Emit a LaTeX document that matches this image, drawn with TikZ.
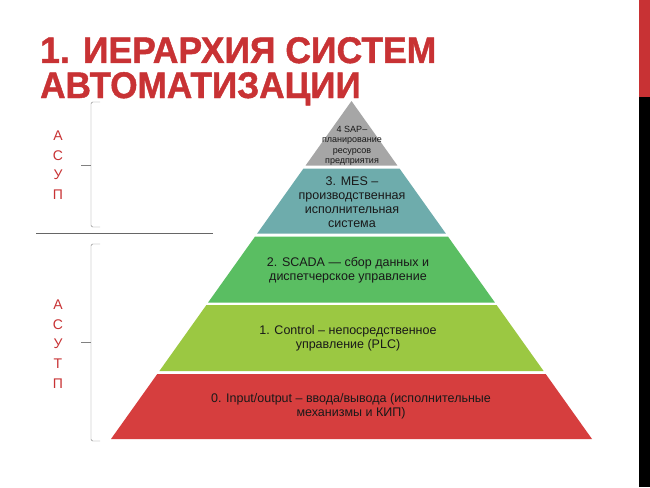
\documentclass[tikz,border=0pt]{standalone}
\usepackage{fontspec}
\setmainfont{Liberation Sans}
\newfontfamily\titlefont{Liberation Sans Bold}[FakeBold=1.2]
\definecolor{titlered}{RGB}{200,50,52}
\definecolor{lvlgray}{RGB}{166,166,166}
\definecolor{lvlteal}{RGB}{110,172,172}
\definecolor{lvlgreen}{RGB}{90,190,98}
\definecolor{lvllime}{RGB}{155,200,66}
\definecolor{lvlred}{RGB}{214,62,62}
\tikzset{
  titletext/.style={anchor=base west, inner sep=0, text=titlered, font=\titlefont\fontsize{37}{40}\selectfont},
  lvltext/.style={align=center, text=black!90, font=\fontsize{12.5}{13.8}\selectfont},
  sidetext/.style={align=center, text=titlered, font=\fontsize{14}{19.6}\selectfont},
  grpbrace/.style={draw=gray, thin, rounded corners=1.5pt},
}
\begin{document}
\begin{tikzpicture}[x=1pt, y=-1pt]
  \useasboundingbox (0,0) rectangle (650,487);
  \fill [white] (0,0) rectangle (650,487);
  % strip on the right
  \fill [titlered] (639,0) rectangle (650,97);
  \fill [black] (639,97) rectangle (650,487);
  % title
  \node [titletext] (title1) at (40,63) {\scalebox{0.96}[1]{1. ИЕРАРХИЯ СИСТЕМ}};
  \node [titletext] (title2) at (40,98) {\scalebox{0.95}[1]{АВТОМАТИЗАЦИИ}};
  % pyramid
  \fill [lvlgray] (305.6,165.5) -- (397.4,165.5) -- (351.5,101) -- cycle;
  \fill [lvlteal] (257.2,233.5) -- (445.8,233.5) -- (399.5,168.5) -- (303.5,168.5) -- cycle;
  \fill [lvlgreen] (208.1,302.5) -- (494.9,302.5) -- (447.9,236.5) -- (255.1,236.5) -- cycle;
  \fill [lvllime] (159.4,371) -- (543.6,371) -- (496.6,305) -- (206.4,305) -- cycle;
  \fill [lvlred] (111,439) -- (592,439) -- (545.7,374) -- (157.3,374) -- cycle;
  \node [lvltext, font=\fontsize{9}{10.5}\selectfont] (sap) at (352,146) {4 SAP–\\планирование\\ресурсов\\предприятия};
  \node [lvltext] (mes) at (352,202) {3. MES –\\производственная\\исполнительная\\система};
  \node [lvltext] (scada) at (348,270) {2. SCADA — сбор данных и\\диспетчерское управление};
  \node [lvltext] (plc) at (348,338) {1. Control – непосредственное\\управление (PLC)};
  \node [lvltext] (io) at (351,406) {0. Input/output – ввода/вывода (исполнительные\\механизмы и КИП)};
  % left side
  \draw [grpbrace] (100,102) -- (91,102) -- (91,227) -- (100,227);
  \draw [grpbrace] (81,165) -- (91,165);
  \draw [grpbrace] (100,244) -- (91,244) -- (91,441) -- (100,441);
  \draw [grpbrace] (81,342) -- (91,342);
  \draw [gray!80!black, thin] (36,233) -- (213,233);
  \node [sidetext] (asup) at (58,165) {А\\С\\У\\П};
  \node [sidetext] (asutp) at (58,344) {А\\С\\У\\Т\\П};
\end{tikzpicture}
\end{document}
